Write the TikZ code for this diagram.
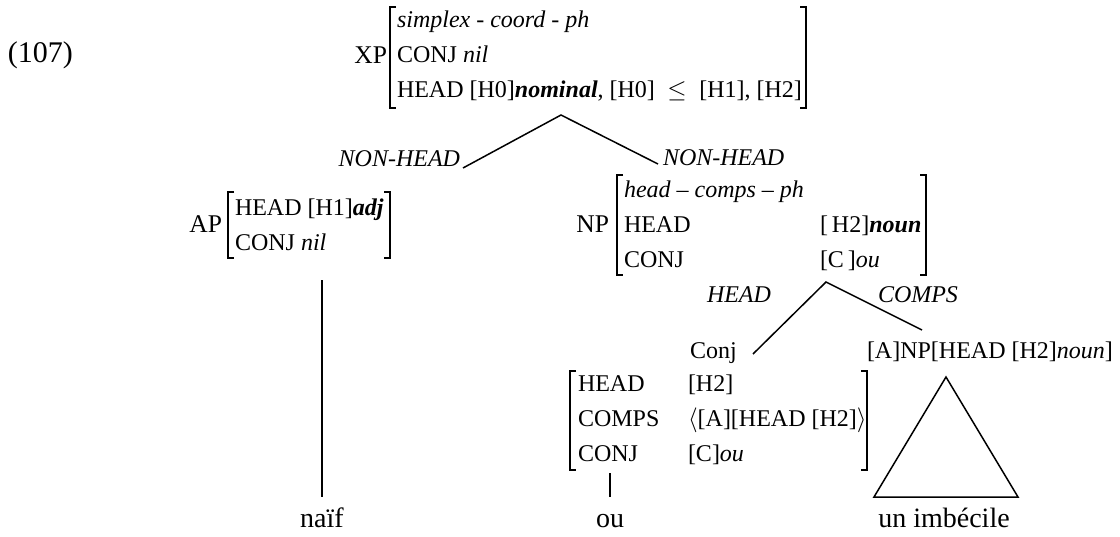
\documentclass[tikz,border=0pt]{standalone}
\usepackage{fontspec}
\setmainfont{Liberation Serif}
\newcommand{\lbk}[3]{\draw[brk] ({#1+6},#2) -- (#1,#2) -- (#1,#3) -- ({#1+6},#3);}
\newcommand{\rbk}[3]{\draw[brk] ({#1-6},#2) -- (#1,#2) -- (#1,#3) -- ({#1-6},#3);}
\begin{document}
\begin{tikzpicture}[x=1pt,y=-1pt,
  txt/.style={inner sep=0pt, outer sep=0pt, anchor=base west, font=\fontsize{24}{28}\selectfont},
  lbl/.style={txt, anchor=base east},
  cat/.style={txt, anchor=base east, font=\fontsize{25.5}{28}\selectfont},
  leaf/.style={inner sep=0pt, outer sep=0pt, anchor=base, font=\fontsize{28}{32}\selectfont},
  edge/.style={line width=1.5pt},
  brk/.style={line width=1.2pt}]
\useasboundingbox (0,0) rectangle (1120,536);

% example number
\node[txt, font=\fontsize{30}{32}\selectfont] (ex) at (8,62) {(107)};

% XP
\node[cat] (xp) at (387,63) {XP};
\lbk{390}{7}{108}
\rbk{806}{7}{108}
\node[txt] (xp1) at (397,27) {\textit{simplex - coord - ph}};
\node[txt] (xp2) at (397,62) {CONJ \textit{nil}};
\node[txt] (xp3) at (397,97) {HEAD [H0]\textbf{\textit{nominal}}, [H0]~\,\hspace{2.5pt}$\leq$~\,\hspace{2.5pt}[H1], [H2]};

% top branching
\coordinate (a1) at (561,115);
\coordinate (l1) at (463,168);
\coordinate (r1) at (658,164);
\draw[edge] (l1) -- (a1) -- (r1);
\node[lbl] (nhl) at (460,166) {\textit{NON-HEAD}};
\node[txt] (nhr) at (663,165) {\textit{NON-HEAD}};

% AP
\node[cat] (ap) at (222,232) {AP};
\lbk{228}{192}{258}
\rbk{390}{192}{258}
\node[txt] (ap1) at (235,215) {HEAD [H1]\textbf{\textit{adj}}};
\node[txt] (ap2) at (235,250) {CONJ \textit{nil}};
\coordinate (apb) at (322,280);
\node[leaf] (naif) at (322,527) {naïf};
\coordinate (naift) at (322,497);
\draw[edge] (apb) -- (naift);

% NP
\node[cat] (np) at (609,232) {NP};
\lbk{617}{175}{275}
\rbk{926}{175}{275}
\node[txt] (np1) at (624,197) {\textit{head – comps – ph}};
\node[txt] (np2) at (624,232) {HEAD};
\node[txt] (np3) at (624,267) {CONJ};
\node[txt] (np2v) at (820,232) {[\,H2]\textbf{\textit{noun}}};
\node[txt] (np3v) at (820,267) {[C\,]\textit{ou}};

% lower branching
\coordinate (a2) at (826,282);
\coordinate (l2) at (753,354);
\coordinate (r2) at (922,330);
\draw[edge] (l2) -- (a2) -- (r2);
\node[txt] (hl) at (707,302) {\textit{HEAD}};
\node[txt] (cl) at (878,302) {\textit{COMPS}};

\node[txt] (conj) at (690,358) {Conj};
\node[txt] (anp) at (867,358) {[A]NP[HEAD [H2]\textit{noun}]};

% Conj AVM
\lbk{570}{371}{470}
\rbk{867}{371}{470}
\node[txt] (c1) at (578,391) {HEAD};
\node[txt] (c2) at (578,426) {COMPS};
\node[txt] (c3) at (578,461) {CONJ};
\node[txt] (c1v) at (688,391) {[H2]};
\node[txt] (c2v) at (688,426) {$\langle$[A][HEAD [H2]$\rangle$};
\node[txt] (c3v) at (688,461) {[C]\textit{ou}};
\coordinate (cb) at (610,473);
\coordinate (out) at (610,497);
\draw[edge] (cb) -- (out);
\node[leaf] (ou) at (610,527) {ou};

% triangle
\coordinate (ta) at (946,377);
\coordinate (tl) at (874,497);
\coordinate (tr) at (1018,497);
\draw[edge, line join=miter] (ta) -- (tl) -- (tr) -- cycle;
\node[leaf] (unimb) at (944,527) {un imbécile};
\end{tikzpicture}
\end{document}
